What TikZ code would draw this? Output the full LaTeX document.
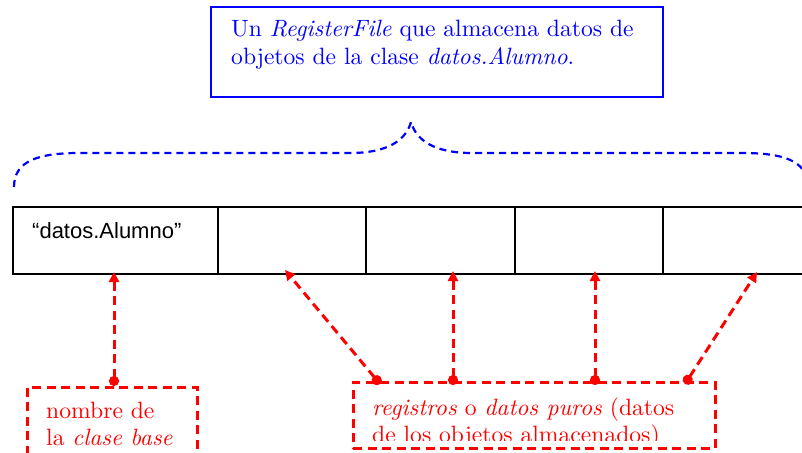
\documentclass[tikz,border=0pt]{standalone}
\usepackage{fontspec}
\setmainfont{lmroman10-regular.otf}[ItalicFont=lmroman10-italic.otf]
\newfontfamily\arialfont{Liberation Sans}
\usetikzlibrary{arrows.meta}
\begin{document}
\begin{tikzpicture}[x=1pt,y=-1pt,
  cell/.style={draw=black,line width=2pt,minimum height=67pt,inner sep=0pt,outer sep=0pt,anchor=north west},
  titlebox/.style={draw=blue,line width=2pt,inner sep=0pt,outer sep=0pt,anchor=north west},
  bluetext/.style={text=blue,font=\fontsize{23.6}{27}\selectfont,inner sep=0pt,anchor=base west},
  redtext/.style={text=red,font=\fontsize{23.6}{27}\selectfont,inner sep=0pt,anchor=base west},
  redbox/.style={draw=red,line width=3pt,dash pattern=on 9pt off 5.5pt,inner sep=0pt,outer sep=0pt,anchor=north west},
  bracepath/.style={draw=blue,line width=2.2pt,dash pattern=on 7pt off 5pt},
  redarrow/.style={red,line width=3pt,dash pattern=on 9pt off 5.5pt,{Circle[length=10pt]}-{Triangle[length=10pt,width=10pt]}}]
\useasboundingbox (0,0) rectangle (802,452);
\clip (0,0) rectangle (802,452);
% title box
\node[titlebox,minimum width=452pt,minimum height=90pt] (title) at (211,7) {};
\node[bluetext] (t1) at (231,37) {Un \textit{RegisterFile} que almacena datos de};
\node[bluetext] (t2) at (231,64) {objetos de la clase \textit{datos.Alumno}.};
% brace
\draw[bracepath] (14,187) .. controls (14,160) and (40,153) .. (80,153) -- (350,153)
  .. controls (388,153) and (406,140) .. (411,122)
  .. controls (416,140) and (434,153) .. (472,153) -- (742,153)
  .. controls (782,153) and (808,160) .. (808,187);
% cells
\node[cell,minimum width=205pt] (c1) at (13,207) {};
\node[cell,minimum width=148pt] (c2) at (218,207) {};
\node[cell,minimum width=149pt] (c3) at (366,207) {};
\node[cell,minimum width=148pt] (c4) at (515,207) {};
\node[cell,minimum width=148pt] (c5) at (663,207) {};
\node[font=\arialfont\fontsize{22}{26}\selectfont,inner sep=0pt,anchor=base west] (lbl) at (32,238) {“datos.Alumno”};
% red boxes
\node[redbox,minimum width=170pt,minimum height=80pt] (nb) at (27,387) {};
\node[redbox,minimum width=362pt,minimum height=66pt] (rb) at (353,382) {};
\begin{scope}
\clip (0,0) rectangle (802,445);
\node[redtext] (nb1) at (46,418) {nombre de};
\node[redtext] (nb2) at (46,445) {la \textit{clase base}};
\end{scope}
\begin{scope}
\clip (0,0) rectangle (802,440);
\node[redtext] (rb1) at (372,415) {\textit{registros} o \textit{datos puros} (datos};
\node[redtext] (rb2) at (372,442) {de los objetos almacenados)};
\end{scope}
% arrow ends
\coordinate (s1) at (114,386);
\coordinate (e1) at (114,272);
\coordinate (s2) at (380,384);
\coordinate (e2) at (285,270);
\coordinate (s3) at (453,385);
\coordinate (e3) at (453,271);
\coordinate (s4) at (595,385);
\coordinate (e4) at (595,271);
\coordinate (s5) at (685,384);
\coordinate (e5) at (757,272);
\draw[redarrow] (s1) -- (e1);
\draw[redarrow] (s2) -- (e2);
\draw[redarrow] (s3) -- (e3);
\draw[redarrow] (s4) -- (e4);
\draw[redarrow] (s5) -- (e5);
\end{tikzpicture}
\end{document}
